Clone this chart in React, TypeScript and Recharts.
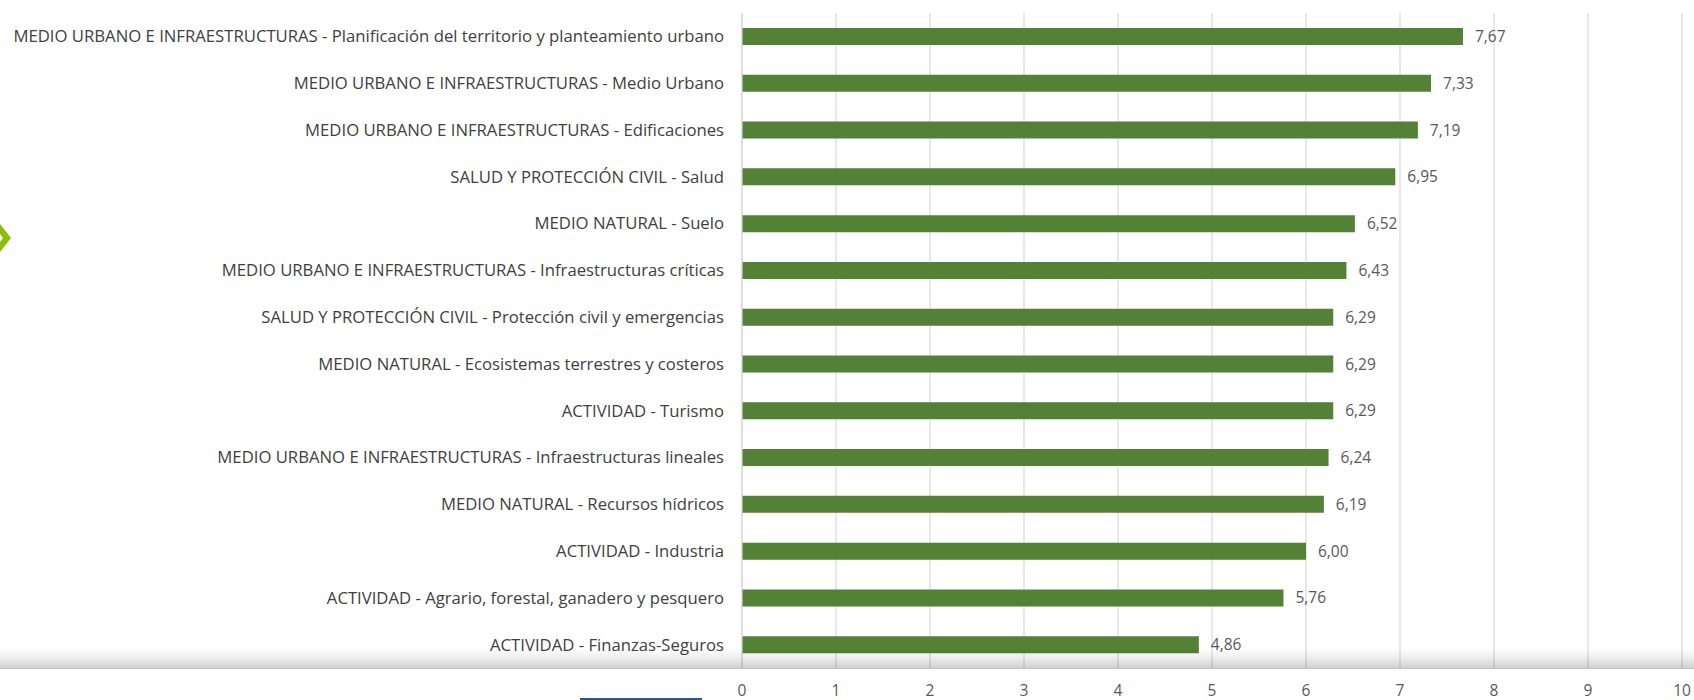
import React from "react";
import { BarChart, Bar, XAxis, YAxis, CartesianGrid, LabelList } from "recharts";

const categories: string[] = [
  "MEDIO URBANO E INFRAESTRUCTURAS - Planificación del territorio y planteamiento urbano",
  "MEDIO URBANO E INFRAESTRUCTURAS - Medio Urbano",
  "MEDIO URBANO E INFRAESTRUCTURAS - Edificaciones",
  "SALUD Y PROTECCIÓN CIVIL - Salud",
  "MEDIO NATURAL - Suelo",
  "MEDIO URBANO E INFRAESTRUCTURAS - Infraestructuras críticas",
  "SALUD Y PROTECCIÓN CIVIL - Protección civil y emergencias",
  "MEDIO NATURAL - Ecosistemas terrestres y costeros",
  "ACTIVIDAD - Turismo",
  "MEDIO URBANO E INFRAESTRUCTURAS - Infraestructuras lineales",
  "MEDIO NATURAL - Recursos hídricos",
  "ACTIVIDAD - Industria",
  "ACTIVIDAD - Agrario, forestal, ganadero y pesquero",
  "ACTIVIDAD - Finanzas-Seguros",
];

const values: number[] = [7.67, 7.33, 7.19, 6.95, 6.52, 6.43, 6.29, 6.29, 6.29, 6.24, 6.19, 6.0, 5.76, 4.86];

const xTicks: number[] = [0, 1, 2, 3, 4, 5, 6, 7, 8, 9, 10];

const data = categories.map((name, i) => ({ name, value: values[i] }));

const FONT = "'Open Sans', 'Noto Sans', sans-serif";

const fmt = (v: any) => Number(v).toFixed(2).replace(".", ",");

export default function App() {
  return (
    <div style={{ position: "absolute", left: 0, top: 0, width: 1694, height: 700, background: "#ffffff", overflow: "hidden" }}>
      <BarChart
        width={1694}
        height={700}
        data={data}
        layout="vertical"
        margin={{ top: 13, right: 12, bottom: 0, left: 0 }}
        barSize={17}
      >
        <CartesianGrid horizontal={false} vertical={true} stroke="#d9d9d9" strokeWidth={1.2} />
        <XAxis
          type="number"
          domain={[0, 10]}
          ticks={xTicks}
          interval={0}
          height={32}
          tickSize={0}
          tickMargin={16.5}
          axisLine={false}
          tick={{ fill: "#595959", fontSize: 15.5, fontFamily: FONT }}
        />
        <XAxis
          xAxisId="top"
          orientation="top"
          type="number"
          domain={[0, 10]}
          height={0}
          tick={false}
          tickLine={false}
          axisLine={{ stroke: "#d9d9d9", strokeWidth: 1.2 }}
        />
        <YAxis
          type="category"
          dataKey="name"
          width={742}
          interval={0}
          tickSize={0}
          tickMargin={18}
          axisLine={{ stroke: "#d9d9d9", strokeWidth: 1.2 }}
          tick={{ fill: "#404040", fontSize: 16.7, fontFamily: FONT }}
        />
        <Bar dataKey="value" fill="#538135" isAnimationActive={false}>
          <LabelList
            dataKey="value"
            position="right"
            offset={12}
            formatter={fmt}
            style={{ fill: "#595959", fontSize: 15.5, fontFamily: FONT }}
          />
        </Bar>
      </BarChart>
      <div
        style={{
          position: "absolute",
          left: 0,
          top: 648,
          width: 1694,
          height: 20,
          background: "linear-gradient(to bottom, rgba(0,0,0,0) 0%, rgba(0,0,0,0.07) 50%, rgba(0,0,0,0.18) 100%)",
          borderBottom: "1px solid #c4c4c4",
        }}
      />
      <div style={{ position: "absolute", left: 580, top: 698, width: 122, height: 2, background: "#2a5a96" }} />
      <svg style={{ position: "absolute", left: 0, top: 221 }} width={16} height={36}>
        <polygon points="0,3 11,17 0,31 0,21 3,17 0,13" fill="#8cbd0a" />
      </svg>
    </div>
  );
}
